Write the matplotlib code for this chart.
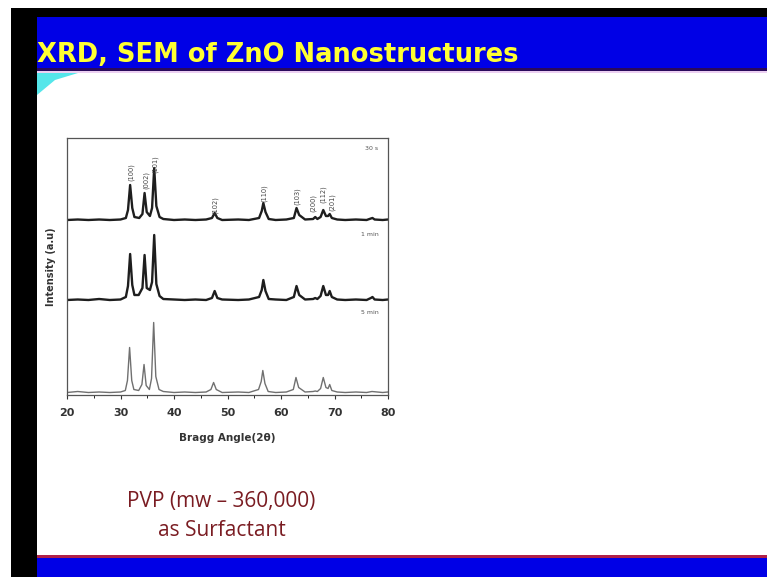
import numpy as np
import matplotlib.pyplot as plt
from matplotlib.patches import Rectangle, Polygon

# XRD traces: 2-theta points and heights above each baseline
theta_30s = [20, 22, 24, 26, 28, 30, 31.0, 31.4, 31.8, 32.2, 32.6, 33.5, 34.1, 34.5, 34.9,
             35.5, 35.9, 36.3, 36.7, 37.3, 38, 40, 42, 44, 46, 47.1, 47.6, 48.1, 49, 52,
             54, 55.9, 56.4, 56.7, 57.1, 57.7, 59, 61, 62.4, 62.9, 63.4, 64.5, 66.0, 66.4,
             66.8, 67.4, 67.9, 68.4, 68.8, 69.1, 69.5, 70.5, 72, 74, 76, 76.8, 77.1, 77.5,
             79, 80]
int_30s = [0, 0.5, 0, 0.5, 0, 0.5, 2, 10, 35, 12, 3, 2, 6, 27, 8,
           4, 12, 52, 14, 3, 1, 0, 0.5, 0, 0.5, 2, 7, 2, 0, 0.5,
           0, 2, 9, 17, 8, 1, 0, 0.5, 2, 12, 5, 0.5, 1, 3,
           1, 3, 10, 4, 4, 6, 2, 0.5, 0, 0.5, 0, 1.5, 2, 0.5,
           0, 0.5]

theta_1min = [20, 22, 24, 26, 28, 30, 31.0, 31.4, 31.8, 32.2, 32.6, 33.4, 34.1, 34.5, 34.9,
              35.5, 35.9, 36.3, 36.7, 37.3, 38, 40, 42, 44, 46, 47.1, 47.6, 48.1, 49, 52,
              54, 55.9, 56.4, 56.7, 57.1, 57.7, 59, 61, 62.4, 62.9, 63.4, 64.5, 66.0, 66.4,
              66.8, 67.4, 67.9, 68.4, 68.8, 69.1, 69.5, 70.5, 72, 74, 76, 76.8, 77.1, 77.5,
              79, 80]
int_1min = [0, 0.5, 0, 1, 0, 0.5, 3, 14, 46, 15, 5, 5, 12, 45, 12,
            10, 18, 65, 16, 4, 1, 0.5, 0, 0.5, 0, 2, 9, 2, 0.5, 0,
            0.5, 3, 10, 20, 9, 1, 0.5, 0, 3, 14, 5, 0.5, 1, 2,
            1, 4, 14, 5, 5, 9, 3, 0.5, 0, 0.5, 0, 2, 3, 0.5,
            0, 0.5]

theta_5min = [20, 22, 24, 26, 28, 30, 30.9, 31.3, 31.7, 32.1, 32.5, 33.4, 34.0, 34.4, 34.8,
              35.4, 35.8, 36.2, 36.6, 37.2, 38, 40, 42, 44, 46, 46.9, 47.4, 47.9, 49, 52,
              54, 55.8, 56.3, 56.6, 57.0, 57.6, 59, 61, 62.3, 62.8, 63.3, 64.5, 66.0, 66.4,
              66.8, 67.4, 67.9, 68.4, 68.8, 69.1, 69.5, 70.5, 72, 74, 76, 77, 79, 80]
int_5min = [0, 1, 0, 0.5, 0, 0.5, 2, 12, 45, 12, 3, 2, 8, 28, 7,
            3, 14, 70, 16, 3, 1, 0, 0.5, 0, 0.5, 3, 10, 3, 0, 0.5,
            0, 3, 11, 22, 9, 1, 0, 0.5, 3, 15, 5, 0.5, 1, 1.5,
            1, 4, 15, 5, 4, 8, 2, 0.5, 0, 0.5, 0, 1, 0, 0.5]

baselines = [175, 95, 2.5]
trace_names = ["30 s", "1 min", "5 min"]
name_y = [247, 160, 82]

hkl_labels = ["(100)", "(002)", "(101)", "(102)", "(110)", "(103)", "(200)", "(112)", "(201)"]
hkl_theta = [32.0, 34.8, 36.4, 47.7, 56.8, 63.0, 66.0, 67.9, 69.5]
hkl_y = [223, 215, 231, 190, 202, 199, 192, 201, 193]

fig = plt.figure(figsize=(7.67, 5.77), dpi=100)
fig.patch.set_facecolor("white")

# slide background in pixel coordinates
bg = fig.add_axes([0, 0, 1, 1])
bg.set_xlim(0, 767)
bg.set_ylim(577, 0)
bg.axis("off")
bg.add_patch(Rectangle((11, 8), 26, 569, color="black", lw=0))
bg.add_patch(Rectangle((11, 8), 756, 9, color="black", lw=0))
bg.add_patch(Rectangle((37, 17), 730, 51, color="#0000e6", lw=0))
bg.add_patch(Rectangle((37, 68), 730, 3, color="#2a0a5c", lw=0))
bg.add_patch(Rectangle((37, 71), 730, 2, color="#ecd0f2", lw=0))
bg.add_patch(Polygon([(37, 73), (78, 73), (55, 80), (37, 95)], color="#55e6ea", lw=0))
bg.add_patch(Rectangle((37, 555), 730, 3, color="#b02048", lw=0))
bg.add_patch(Rectangle((37, 558), 730, 19, color="#0000e6", lw=0))
bg.text(37, 55, "XRD, SEM of ZnO Nanostructures", color="#ffff33", fontsize=18.5,
        fontweight="bold", va="center", ha="left")
bg.text(221, 502, "PVP (mw \u2013 360,000)", color="#7a1c22", fontsize=15,
        family="Open Sans", ha="center", va="center")
bg.text(222, 531, "as Surfactant", color="#7a1c22", fontsize=15,
        family="Open Sans", ha="center", va="center")

# XRD chart
ax = fig.add_axes([67 / 767, (577 - 395) / 577, 321 / 767, 257 / 577])
ax.set_facecolor("none")
traces = [(theta_30s, int_30s), (theta_1min, int_1min), (theta_5min, int_5min)]
colors = ["#1e1e1e", "#1e1e1e", "#707070"]
widths = [1.7, 1.7, 1.0]
for (t, i), b, c, w in zip(traces, baselines, colors, widths):
    ax.plot(t, np.array(i) + b, color=c, lw=w)

for name, y in zip(trace_names, name_y):
    ax.text(78.2, y, name, fontsize=4.5, color="#555555", ha="right", va="center")
for lab, t, y in zip(hkl_labels, hkl_theta, hkl_y):
    ax.text(t, y, lab, fontsize=4.8, color="#444444", rotation=90, ha="center", va="center")

ax.set_xlim(20, 80)
ax.set_ylim(0, 257)
ax.set_xticks(range(20, 81, 10))
ax.set_xticks(range(25, 80, 10), minor=True)
ax.set_yticks([])
ax.tick_params(axis="x", direction="out", length=3, width=0.8, labelsize=8, pad=6, colors="#333333")
ax.tick_params(axis="x", which="minor", length=2, width=0.6)
for lab in ax.get_xticklabels():
    lab.set_fontweight("bold")
for s in ax.spines.values():
    s.set_color("#555555")
    s.set_linewidth(0.9)
ax.set_xlabel("Bragg Angle(2\u03b8)", fontsize=7.5, fontweight="bold", color="#333333", labelpad=11)
ax.set_ylabel("Intensity (a.u)", fontsize=7, fontweight="bold", color="#333333", labelpad=8)

fig.savefig("out.png", dpi=100)
